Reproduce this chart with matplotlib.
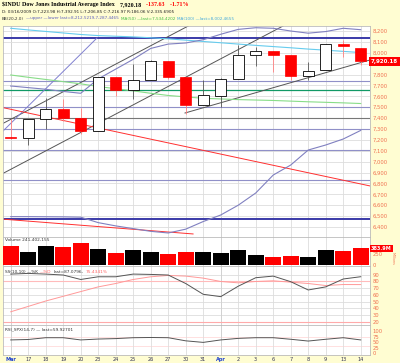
import matplotlib
matplotlib.use('Agg')
import matplotlib.pyplot as plt
import matplotlib.transforms as mtrans
import numpy as np

# --- data ---
dates = ['Mar', '17', '18', '19', '20', '23', '24', '25', '26', '27', '30', '31',
         'Apr', '2', '3', '6', '7', '8', '9', '13', '14']
opens = [7223.98, 7216.97, 7395.10, 7487.04, 7400.80, 7278.38, 7774.96, 7659.97, 7750.21, 7922.93,
         7775.44, 7523.60, 7606.92, 7763.50, 7978.09, 8016.95, 7975.05, 7789.48, 7838.00, 8081.84, 8048.04]
highs = [7392.91, 7395.70, 7580.25, 7579.27, 7492.25, 7775.86, 7776.03, 7899.89, 7936.42, 7922.93,
         7775.44, 7751.04, 7770.00, 8075.20, 8052.25, 8016.95, 7975.05, 7915.08, 8083.38, 8115.51, 8048.04]
lows = [7206.85, 7154.18, 7302.03, 7370.71, 7250.77, 7278.38, 7605.13, 7577.11, 7749.19, 7757.50,
        7440.89, 7523.60, 7500.00, 7763.50, 7874.88, 7821.07, 7752.94, 7747.38, 7838.00, 7959.67, 7884.33]
closes = [7216.97, 7395.70, 7486.58, 7400.80, 7278.38, 7775.86, 7659.97, 7749.81, 7924.56, 7776.18,
          7522.02, 7608.92, 7761.60, 7978.08, 8017.59, 7975.85, 7789.56, 7837.11, 8083.38, 8057.81, 7920.18]
prev_close = 7223.98
volume_m = [444, 299, 444, 421, 499, 375, 283, 345, 299, 253, 292, 299, 269, 338, 237, 191, 214, 191, 345, 322, 384]

bb_upper = [7695, 7680, 7665, 7645, 7628, 7760, 7850, 7940, 8040, 8080, 8090, 8120, 8170, 8215, 8230,
            8225, 8200, 8180, 8195, 8225, 8212]
bb_lower = [6495, 6495, 6494, 6493, 6490, 6440, 6410, 6385, 6360, 6345, 6380, 6450, 6510, 6600, 6712,
            6877, 6969, 7107, 7153, 7208, 7287]
ma50 = [7796, 7775, 7755, 7735, 7715, 7690, 7670, 7650, 7628, 7608, 7595, 7582, 7576, 7570, 7566,
        7562, 7556, 7550, 7545, 7540, 7534]
ma100 = [8225, 8210, 8196, 8182, 8168, 8158, 8152, 8146, 8138, 8128, 8116, 8104, 8092, 8080, 8068,
         8057, 8046, 8034, 8024, 8013, 8002]

stoch_k = [91, 92, 91, 89.6, 83, 87, 87, 91, 90.5, 89.6, 77, 61, 57.5, 73, 85.6, 88, 79.7, 67.4, 72, 83.7, 87.1]
stoch_d = [35, 43, 51, 58, 65, 72, 77, 83, 87, 89, 88, 85, 80, 78, 80, 81, 79, 77, 74, 75.5, 75.4]
rsi = [60, 62, 70, 70, 60, 64, 66, 70, 71, 70, 56, 49, 60, 67, 70, 70, 63, 55, 63, 70, 60]

# drawn support / resistance levels
levels = [(8136, '#3a3aa8', 1.4), (6474, '#3a3aa8', 1.4), (7741, '#9090c8', 0.8), (7502, '#9090c8', 0.8),
          (7300, '#9090c8', 0.8), (7107, '#9090c8', 0.8), (6832, '#9090c8', 0.8),
          (7660, '#119966', 0.9), (7401, '#777777', 0.8)]
# drawn trendlines: (x0, p0, x1, p1, colour)
trendlines = [(-0.61, 7337, 10.25, 8255, '#555555'),
              (-0.5, 6887, 15.56, 8246, '#555555'),
              (9.96, 7447, 20.53, 7934, '#555555'),
              (-0.61, 7254, 4.93, 8136, '#8080d0'),
              (-0.61, 7502, 20.53, 6777, '#ff3030'),
              (-0.61, 6474, 10.42, 6336, '#ff3030')]

x = np.arange(len(dates))
bg = '#FFFDD2'
tick_col = '#F07050'
grid_col = '#DDDDDD'
fs = 3.1

fig = plt.figure(figsize=(4, 3.63), dpi=100, facecolor=bg)


def rect(top, bot):
    return [3 / 400, 1 - bot / 363, 367 / 400, (bot - top) / 363]


def fchain(first, pieces, size=fs, **kw):
    # write text pieces one after another on the same line
    prev = first
    for s, c in pieces:
        prev = plt.annotate(s, xy=(1, 0), xycoords=prev, xytext=(1.5, 0),
                            textcoords='offset points', fontsize=size, color=c,
                            va='bottom', annotation_clip=False, **kw)
    return prev


ax = fig.add_axes(rect(26, 237))
axv = fig.add_axes(rect(237, 266))
axs = fig.add_axes(rect(266, 325))
axr = fig.add_axes(rect(325, 355))

for a in (ax, axv, axs, axr):
    a.set_facecolor('white')
    a.set_xlim(-0.44, 20.53)
    a.set_xticks(x)
    a.grid(True, color=grid_col, lw=0.6)
    a.set_axisbelow(True)
    for i in (0, 12):
        a.axvline(i, color='#999999', lw=0.7, zorder=0.5)
    for s in a.spines.values():
        s.set_color('#BBBBBB')
        s.set_linewidth(0.6)
    a.yaxis.tick_right()
    a.tick_params(axis='y', length=0, pad=2, labelsize=3.8, labelcolor=tick_col)
    a.tick_params(axis='x', length=0, labelbottom=False)

# --- price panel ---
ax.set_ylim(6308, 8246)
pt = list(range(6400, 8201, 100))
ax.set_yticks(pt)
ax.set_yticklabels(['' if p == 7900 else f'{p:,}' for p in pt])

for p, c, lw in levels:
    ax.axhline(p, color=c, lw=lw, zorder=1)
for x0, p0, x1, p1, c in trendlines:
    ax.plot([x0, x1], [p0, p1], color=c, lw=0.7, zorder=2)

ax.plot(x, ma100, color='#66ccee', lw=0.8, zorder=2)
ax.plot(x, ma50, color='#88dd88', lw=0.8, zorder=2)
ax.plot(x, bb_upper, color='#8080c0', lw=0.8, zorder=2)
ax.plot(x, bb_lower, color='#8080c0', lw=0.8, zorder=2)

pc = [prev_close] + closes[:-1]
for i in range(len(x)):
    o, h, l, c = opens[i], highs[i], lows[i], closes[i]
    col = 'red' if c < pc[i] else 'black'
    ax.vlines(x[i], l, h, color='#ff8080' if col == 'red' else '#555555', lw=0.6, zorder=3)
    hgt = max(abs(c - o), 5)
    if c < o:
        ax.bar(x[i], hgt, bottom=min(o, c), width=0.63, color=col, edgecolor=col, lw=0.5, zorder=4)
    else:
        ax.bar(x[i], hgt, bottom=min(o, c), width=0.63, color='white', edgecolor=col, lw=0.6, zorder=4)

bt = mtrans.blended_transform_factory(ax.transAxes, ax.transData)
ax.text(1.003, closes[-1], f'{closes[-1]:,.2f}', transform=bt, ha='left', va='center',
        fontsize=4, color='white', fontweight='bold',
        bbox=dict(fc='red', ec='none', pad=1.2))

# header text
h1 = fig.text(2 / 400, 1 - 7 / 363, '$INDU Dow Jones Industrial Average Index', fontsize=4.3,
              family='Liberation Serif', fontweight='bold', va='bottom')
fchain(h1, [('  7,920.18', 'black'), ('  -137.63', 'red'), ('  -1.71%', 'red')], size=4.3,
       family='Liberation Serif', fontweight='bold')
fig.text(2 / 400, 1 - 14 / 363,
         'D: 03/16/2009 O:7,223.98 H:7,392.91 L:7,206.85 C:7,216.97 R:186.06 V:2,335.6905',
         fontsize=3.0, va='bottom', color='#222222')
h3 = fig.text(2 / 400, 1 - 20.5 / 363, 'BB(20,2.0)', fontsize=3.0, va='bottom', color='#333333')
fchain(h3, [('\u2014upper \u2014lower last=8,212.5219,7,287.4465', '#6060c0'),
            ('MA(50) \u2014last=7,534.4202', '#44bb44'),
            ('MA(100) \u2014last=8,002.4655', '#44aadd')], size=3.0)

# --- volume panel ---
vcol = ['red' if closes[i] < pc[i] else 'black' for i in range(len(x))]
axv.bar(x, volume_m, width=0.9, color=vcol, zorder=3)
axv.set_ylim(-23, 644)
axv.set_yticks([0, 250])
axv.set_yticklabels(['0', '250'])
axv.grid(axis='y', visible=False)
axv.text(0.005, 0.97, 'Volume 241,402,155', transform=axv.transAxes, fontsize=fs,
         va='top', color='#333333')
bv = mtrans.blended_transform_factory(axv.transAxes, axv.transData)
axv.text(1.003, volume_m[-1], '383.9M', transform=bv, ha='left', va='center', fontsize=3.6,
         color='white', fontweight='bold', bbox=dict(fc='red', ec='none', pad=0.8))
fig.text(393 / 400, 1 - 258 / 363, 'Millions', fontsize=2.4, rotation=270, color=tick_col,
         ha='center', va='center')

# --- stochastic panel ---
axs.set_ylim(15.4, 103)
axs.set_yticks(range(20, 91, 10))
axs.grid(axis='y', visible=False)
for t in range(30, 91, 10):
    axs.axhline(t, color=grid_col, lw=0.6, zorder=0)
axs.axhline(80, color='#ffbbbb', lw=0.8, zorder=1)
axs.axhline(20, color='#ffaaaa', lw=0.8, zorder=1)
axs.plot(x, stoch_d, color='#ff9999', lw=0.7, zorder=2)
axs.plot(x, stoch_k, color='#555555', lw=0.7, zorder=3)
s1 = axs.text(0.005, 0.86, 'SS(10,10) \u2014%K', transform=axs.transAxes, fontsize=fs,
              va='bottom', color='#333333')
fchain(s1, [('\u2014%D', '#ff6060'), ('last=87.0796,', '#333333'), ('75.4341%', '#ff6060')])

# --- RSI panel ---
axr.set_ylim(-7.6, 127)
axr.set_yticks([0, 25, 50, 75, 100])
axr.grid(axis='y', visible=False)
axr.axhspan(68, 72, color='#ffe0e0', lw=0, zorder=0)
axr.axhspan(28, 32, color='#ffe0e0', lw=0, zorder=0)
axr.plot(x, rsi, color='#555555', lw=0.7, zorder=3)
axr.text(0.005, 0.93, 'RSI_SPX(14,7) \u2014 last=59.92701', transform=axr.transAxes, fontsize=fs,
         va='top', color='#333333')

axr.tick_params(axis='x', labelbottom=True, pad=1.2, labelsize=3.6, labelcolor='#333355')
axr.set_xticklabels(dates)
for lab in axr.get_xticklabels():
    if lab.get_text() in ('Mar', 'Apr'):
        lab.set_color('#2244cc')
        lab.set_fontweight('bold')

fig.savefig('out.png', dpi=100, facecolor=bg)
